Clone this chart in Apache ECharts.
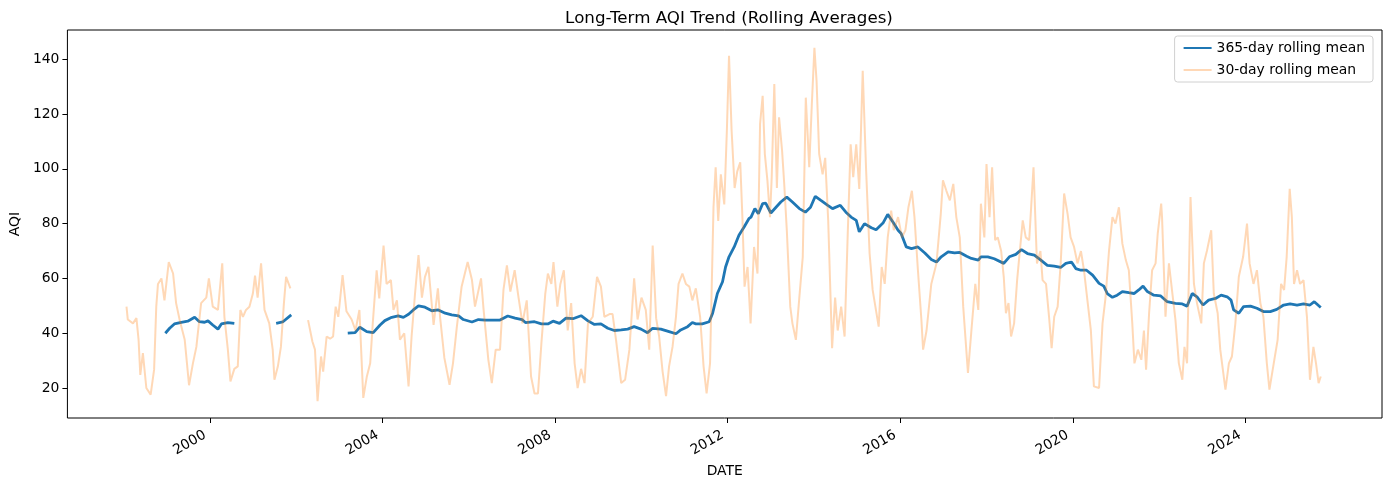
<!DOCTYPE html>
<html>
<head>
<meta charset="utf-8">
<script src="https://cdn.jsdelivr.net/npm/echarts@6/dist/echarts.min.js"></script>
<style>html,body{margin:0;padding:0;background:#fff;}#chart{width:1389px;height:489px;}</style>
</head>
<body>
<div id="chart"></div>
<script>
// 30-day rolling mean (decimal year, AQI); null = gap in data
const aqi30Years = [1998.06,1998.09,1998.21,1998.29,1998.34,1998.38,1998.44,1998.52,1998.62,1998.70,1998.75,1998.79,1998.87,1998.94,1999.04,1999.14,1999.21,1999.29,1999.41,1999.51,1999.60,1999.68,1999.79,1999.91,1999.97,2000.06,2000.18,2000.28,2000.33,2000.41,2000.47,2000.56,2000.64,2000.70,2000.76,2000.83,2000.91,2000.99,2001.04,2001.10,2001.18,2001.26,2001.37,2001.45,2001.49,2001.57,2001.64,2001.71,2001.76,2001.86,
2002.06,
2002.27,2002.37,2002.43,2002.49,2002.57,2002.62,2002.70,2002.78,2002.85,2002.91,2002.97,2003.07,2003.16,2003.28,2003.37,2003.46,2003.55,2003.63,2003.71,2003.77,2003.86,2003.92,2004.02,2004.09,2004.19,2004.25,2004.33,2004.40,2004.50,2004.60,2004.67,2004.75,2004.83,2004.91,2004.98,2005.06,2005.18,2005.28,2005.33,2005.43,2005.55,2005.63,2005.72,2005.83,2005.97,2006.07,2006.14,2006.28,2006.34,2006.45,2006.53,2006.62,2006.72,2006.80,2006.88,2006.96,2007.06,2007.15,2007.24,2007.34,2007.44,
2007.52,2007.60,2007.68,2007.77,2007.83,2007.91,2007.96,2008.05,2008.12,2008.20,2008.29,2008.37,2008.45,2008.52,2008.60,2008.68,2008.76,2008.87,2008.97,2009.06,2009.14,2009.26,2009.33,2009.41,2009.53,2009.62,2009.72,2009.83,2009.91,2010.00,2010.10,2010.18,2010.26,2010.34,2010.41,2010.49,2010.57,2010.64,2010.72,2010.80,2010.86,2010.95,2011.03,2011.11,2011.18,2011.26,2011.36,2011.44,2011.51,2011.59,2011.67,2011.72,2011.78,2011.84,2011.92,2011.98,2012.03,2012.09,2012.16,2012.22,2012.29,2012.34,2012.39,2012.46,2012.53,
2012.61,2012.69,2012.75,2012.81,2012.86,2012.92,2012.98,2013.02,2013.08,2013.14,2013.19,2013.26,2013.31,2013.37,2013.45,2013.50,2013.58,2013.66,2013.74,2013.81,2013.89,2013.95,2014.01,2014.06,2014.12,2014.20,2014.26,2014.33,2014.42,2014.49,2014.55,2014.63,2014.71,2014.78,2014.85,2014.91,2014.98,2015.05,2015.13,2015.21,2015.29,2015.36,2015.50,2015.57,2015.64,2015.71,2015.79,2015.85,2015.95,2016.04,2016.12,2016.19,2016.27,2016.33,2016.41,2016.49,2016.53,2016.61,2016.72,2016.84,2016.94,2016.99,2017.07,2017.15,2017.23,2017.30,2017.38,2017.46,2017.57,2017.65,2017.74,2017.81,
2017.87,2017.95,2018.00,2018.07,2018.13,2018.20,2018.26,2018.34,2018.40,2018.45,2018.51,2018.57,2018.64,2018.71,2018.76,2018.84,2018.91,2018.99,2019.09,2019.17,2019.25,2019.30,2019.38,2019.45,2019.51,2019.57,2019.65,2019.72,2019.80,2019.88,2019.95,2020.03,2020.11,2020.19,2020.26,2020.34,2020.42,2020.49,2020.61,2020.69,2020.76,2020.84,2020.92,2020.99,2021.07,2021.15,2021.23,2021.30,2021.38,2021.43,2021.51,2021.59,2021.65,2021.70,2021.77,2021.84,2021.92,2021.97,2022.05,
2022.07,2022.15,2022.23,2022.30,2022.38,2022.46,2022.54,2022.59,2022.65,2022.73,2022.81,2022.88,2022.98,2023.04,2023.11,2023.21,2023.27,2023.36,2023.42,2023.54,2023.62,2023.69,2023.77,2023.85,2023.95,2024.04,2024.10,2024.19,2024.27,2024.35,2024.42,2024.50,2024.56,2024.66,2024.75,2024.83,2024.90,2024.96,2025.03,2025.08,2025.13,2025.20,2025.27,2025.35,2025.43,2025.50,2025.58,2025.64,2025.70,2025.75];
const aqi30Values = [49.7,45,43.6,45.5,37.6,24.8,32.7,20,17.6,26.7,49.7,58,60,52,66,61.8,51,45,37.6,21,29,35,51,53,60,49.7,48.5,65.5,46,34,22.4,27,27.9,48.5,46,48.5,49.7,54.5,61,53,65.5,48.5,43.6,34,23,27.9,35,51,60.6,56.4,
null,
44.8,37,34,15.2,31.5,26,38.8,38,38.8,49.7,46,61.2,48,45,41,48.5,16.4,24,29,43.6,63,52.7,72,58,59.4,48.5,52,37.6,40,20.6,38.8,54.5,68.5,53,60.6,64.2,43,56.4,46,31,21.2,29,42.4,57,66,59.4,49.7,60,48.5,30.3,21.8,34,34,55.8,64.8,55.2,63,53,43.6,52,24.2,
18,18,36.4,54.5,61.8,58,66,49.7,58,63,41,51,29,20,27,21.8,43.6,46,60.6,57,46,47,47,37.6,21.8,23,34,60,45,53,48.5,34,72,45.5,38.8,26,17,27.9,35,46,58,61.8,58,57,52,56.4,46,27.9,18,29,86,100.6,81,98,87,114,141.3,114,93,99,102.4,82.4,57,64.2,43.6,
71.5,61.8,116.4,126.7,105.5,95.8,82.4,97,131,93,118.8,106.7,94.5,77.6,49.7,43.6,37.6,53,67.9,126,100.6,123.6,144.2,132,105.5,98,104,81,34.5,53,41,49.7,38.8,75,109,97,109,92.7,135.8,99,69,55.8,42.4,64.2,58,75,84.8,77.6,82.4,75,77.6,86,92,82.4,63,45,34,41,58,65.5,83.6,95.8,92,88.5,94.5,82.4,75,49.7,25.5,41,58,48.5,
87.3,75,101.8,82.4,100.6,74,75,70,60.6,47.3,51,38.8,43.6,59.4,67.9,81.2,75,74,100.6,65.5,70,59.4,58,46,34.5,46,49.7,65.5,91,83.6,75,71.5,65.5,70,63,52,41,20.6,20,43.6,53,70,82.4,80,86,72.7,66.7,63,43.6,29,34,30.3,41,26.7,47.3,63,65.5,76.4,87.3,
82.4,46,65.5,55.8,45,29,23,35,29,89.7,58,51,43.6,65.5,70,77.6,54.5,47.3,34,19.4,29,31.5,43.6,60.6,67.9,80,65.5,58,63,51,46,29,19.4,29,37.6,58,55.8,67.9,92.7,82.4,58,63,58,59.4,46,23,35,29,21.8,24.2];

// 365-day rolling mean
const aqi365Years = [1998.96,1999.06,1999.17,1999.33,1999.48,1999.64,1999.75,1999.87,1999.95,2000.06,2000.18,2000.26,2000.41,2000.56,
2001.00,
2001.53,2001.68,2001.88,
2002.50,
2003.19,2003.36,2003.47,2003.63,2003.78,2003.94,2004.05,2004.21,2004.36,2004.48,2004.60,2004.71,2004.83,2004.98,2005.14,2005.29,2005.45,2005.60,2005.76,2005.87,2006.07,2006.22,2006.38,2006.53,2006.72,2006.90,2007.07,2007.23,2007.31,
2007.52,2007.68,2007.83,2007.95,2008.10,2008.25,2008.41,2008.60,2008.76,2008.91,2009.06,2009.22,2009.37,2009.53,2009.68,2009.83,2009.99,2010.14,2010.26,2010.45,2010.64,2010.80,2010.91,2011.07,2011.18,2011.26,2011.41,2011.57,2011.65,2011.76,2011.88,2011.95,2012.03,2012.15,2012.26,2012.38,2012.49,
2012.54,2012.63,2012.71,2012.81,2012.88,2013.00,2013.12,2013.23,2013.37,2013.50,2013.66,2013.80,2013.92,2014.03,2014.16,2014.32,2014.43,2014.61,2014.74,2014.86,2014.98,2015.05,2015.17,2015.33,2015.44,2015.60,2015.71,2015.83,2015.95,2016.02,2016.14,2016.26,2016.41,2016.57,2016.72,2016.84,2016.95,2017.11,2017.26,2017.38,2017.54,2017.65,2017.81,
2017.87,2018.03,2018.18,2018.40,2018.53,2018.68,2018.81,2018.95,2019.11,2019.26,2019.41,2019.57,2019.72,2019.84,2019.97,2020.07,2020.19,2020.32,2020.46,2020.61,2020.72,2020.80,2020.92,2021.03,2021.15,2021.30,2021.42,2021.53,2021.63,2021.73,2021.88,2022.04,
2022.19,2022.38,2022.54,2022.65,2022.77,2022.88,2023.02,2023.15,2023.31,2023.44,2023.58,2023.67,2023.73,2023.85,2023.96,2024.12,2024.27,2024.42,2024.58,2024.73,2024.89,2025.04,2025.20,2025.35,2025.50,2025.60,2025.75];
const aqi365Values = [40,41.8,43.4,44,44.4,45.8,44.2,44,44.5,43,41.5,43.4,43.9,43.6,
null,
43.6,44.1,46.7,
null,
40,40.2,42.2,40.6,40.2,43,44.6,45.8,46.3,45.8,46.9,48.5,50,49.5,48.2,48.5,47.3,46.7,46.3,45,44.1,45,44.8,44.8,44.8,46.3,45.5,45,43.9,
44.2,43.4,43.4,44.4,43.6,45.5,45.3,46.4,44.5,43.2,43.4,41.8,41,41.2,41.5,42.4,41.5,40.2,41.8,41.5,40.6,39.8,41.2,42.4,43.9,43.4,43.4,44.2,47.3,54.5,58.8,64.2,67.9,71.5,75.8,78.8,81.8,
82.4,85.5,83.6,87.3,87.5,83.9,86,87.9,89.7,87.9,85.5,84.2,86,90,88.5,86.7,85.5,86.7,84.2,82.4,81.2,77,80,78.5,77.8,80.2,83.4,80.6,77.6,76.4,71.5,70.9,71.5,69.3,66.9,66,67.9,69.7,69.3,69.5,68.1,67.3,66.7,
67.9,67.9,67.2,65.5,67.9,68.8,70.5,69.1,68.5,66.7,64.8,64.5,64,65.5,66,63.6,63,63,61.2,58.2,57.2,54.5,53.1,53.9,55.2,54.8,54.5,55.8,57.2,55.2,53.9,53.6,
51.5,50.9,50.7,49.9,54.5,53.3,50.3,52.1,52.7,53.9,53.3,52.1,48.5,47.3,49.7,49.9,49.1,47.9,47.9,48.7,50.3,50.7,50.3,50.7,50.3,51.5,49.4];

const xTickYears = [2000, 2004, 2008, 2012, 2016, 2020, 2024];
const yTickValues = [20, 40, 60, 80, 100, 120, 140];

function pairs(xs, ys) { return xs.map((x, i) => [x, ys[i]]); }

const FONT = 'DejaVu Sans';
const chart = echarts.init(document.getElementById('chart'), null, {renderer: 'canvas'});
chart.setOption({
  animation: false,
  backgroundColor: '#fff',
  textStyle: {fontFamily: FONT, color: '#000'},
  title: {
    text: 'Long-Term AQI Trend (Rolling Averages)',
    left: 724, top: 5, textAlign: 'center',
    textStyle: {fontFamily: FONT, fontSize: 16.7, fontWeight: 'normal', color: '#000'}
  },
  grid: {left: 66, right: 7, top: 30, bottom: 71, show: true, borderColor: '#000', borderWidth: 1, backgroundColor: 'transparent'},
  legend: {
    orient: 'vertical', right: 16, top: 36,
    itemWidth: 28, itemHeight: 14, itemGap: 8,
    padding: [5, 8, 5, 8],
    borderColor: '#d0d0d0', borderWidth: 1, borderRadius: 3,
    backgroundColor: 'rgba(255,255,255,0.8)',
    itemStyle: {opacity: 0},
    textStyle: {fontFamily: FONT, fontSize: 13.9, color: '#000'},
    data: ['365-day rolling mean', '30-day rolling mean']
  },
  xAxis: {
    type: 'value', min: 1996.69, max: 2027.17,
    name: 'DATE', nameLocation: 'middle', nameGap: 46,
    nameTextStyle: {fontFamily: FONT, fontSize: 13.9, color: '#000'},
    axisLine: {show: false},
    splitLine: {show: false},
    axisTick: {show: true, length: 5, lineStyle: {color: '#000'}, customValues: xTickYears},
    axisLabel: {fontFamily: FONT, fontSize: 13.9, color: '#000', rotate: 30, margin: 13, padding: [0, 6, 0, 0], customValues: xTickYears, formatter: v => String(Math.round(v))}
  },
  yAxis: {
    type: 'value', min: 9.05, max: 150.7,
    name: 'AQI', nameLocation: 'middle', nameGap: 38, nameRotate: 90,
    nameTextStyle: {fontFamily: FONT, fontSize: 13.9, color: '#000'},
    axisLine: {show: false},
    splitLine: {show: false},
    axisTick: {show: true, length: 5, lineStyle: {color: '#000'}, customValues: yTickValues},
    axisLabel: {fontFamily: FONT, fontSize: 13.9, color: '#000', margin: 8, customValues: yTickValues}
  },
  series: [
    {
      name: '365-day rolling mean', type: 'line', symbol: 'none', connectNulls: false,
      data: pairs(aqi365Years, aqi365Values),
      lineStyle: {color: '#1f77b4', width: 2.8}, itemStyle: {color: '#1f77b4'}
    },
    {
      name: '30-day rolling mean', type: 'line', symbol: 'none', connectNulls: false,
      data: pairs(aqi30Years, aqi30Values),
      lineStyle: {color: '#ff7f0e', width: 2, opacity: 0.3}, itemStyle: {color: '#ff7f0e', opacity: 0.3}
    }
  ]
});
</script>
</body>
</html>
